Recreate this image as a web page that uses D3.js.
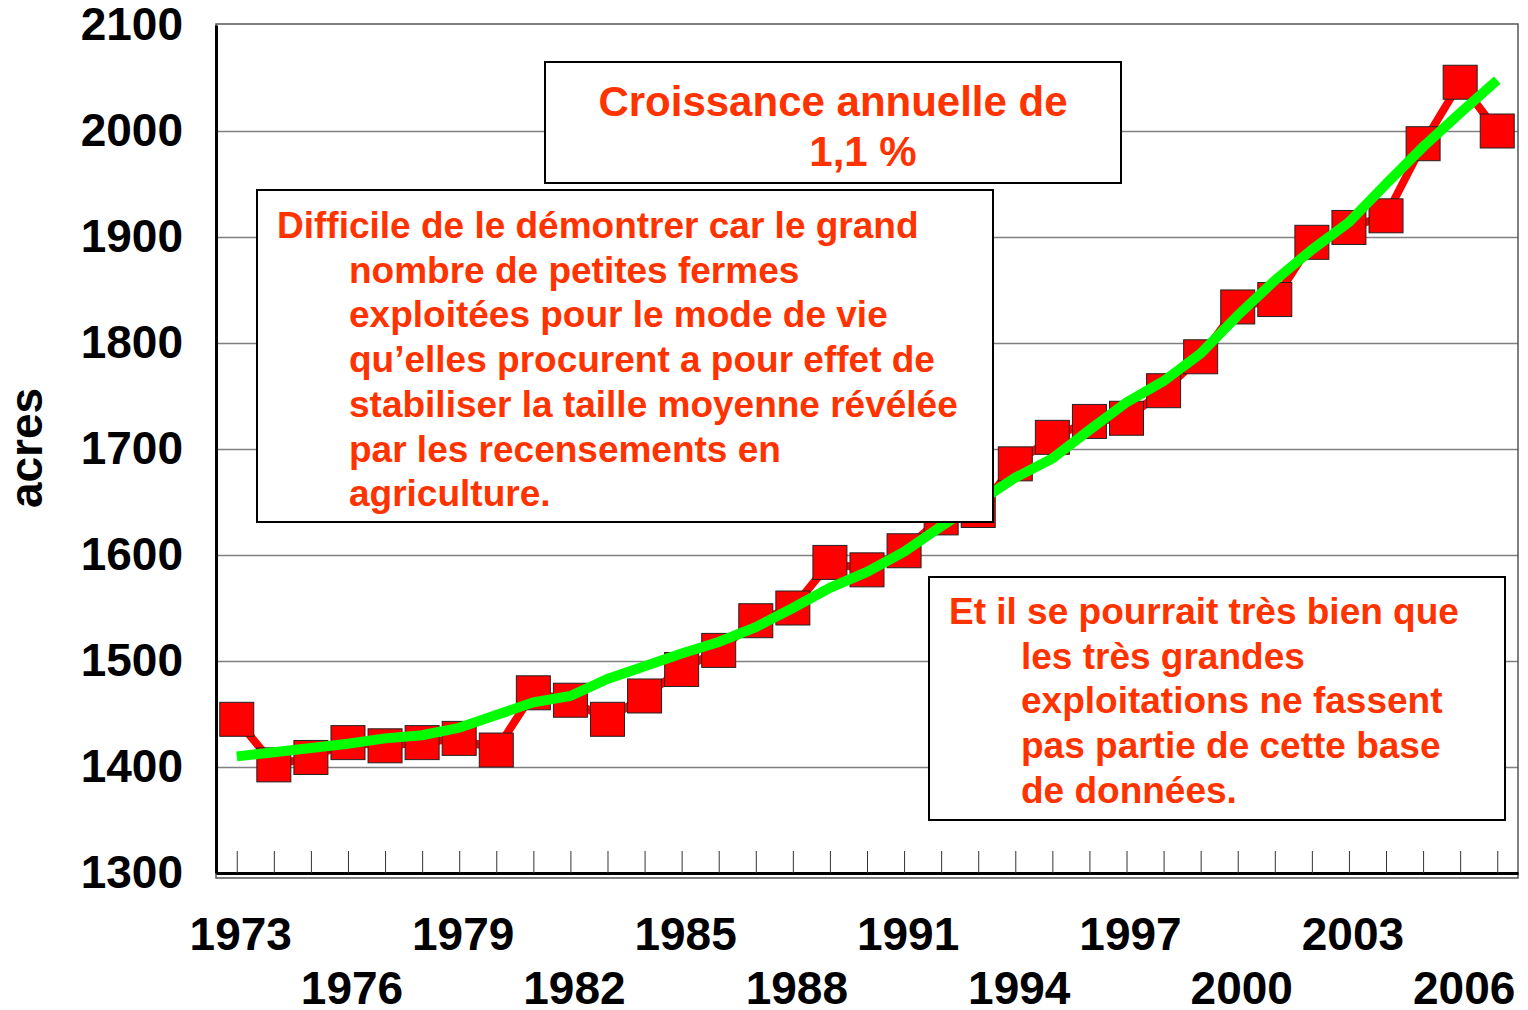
<!DOCTYPE html>
<html>
<head>
<meta charset="utf-8">
<script src="https://cdn.jsdelivr.net/npm/d3@7"></script>
<style>
  body { margin: 0; background: #fff; }
  svg { display: block; }
  text { font-family: "Liberation Sans", Arial, sans-serif; font-weight: bold; }
</style>
</head>
<body>
<div id="chart"></div>
<script>
// years on the category axis
var years = [1973, 1974, 1975, 1976, 1977, 1978, 1979, 1980, 1981, 1982,
             1983, 1984, 1985, 1986, 1987, 1988, 1989, 1990, 1991, 1992,
             1993, 1994, 1995, 1996, 1997, 1998, 1999, 2000, 2001, 2002,
             2003, 2004, 2005, 2006, 2007];

// average farm size (acres), red series
var acres = [1445, 1402, 1409, 1423, 1420, 1423, 1427, 1416, 1470, 1463,
             1445, 1467, 1492, 1510, 1538, 1550, 1593, 1586, 1604, 1635,
             1642, 1686, 1711, 1726, 1729, 1755, 1787, 1834, 1841, 1895,
             1909, 1920, 1988, 2046, 2000];

// smoothed trend, green series
var trend = [1410, 1414, 1418, 1422, 1427, 1430, 1437, 1449, 1461, 1467,
             1483, 1495, 1507, 1518, 1532, 1550, 1569, 1584, 1603, 1627,
             1650, 1673, 1691, 1718, 1744, 1764, 1790, 1826, 1859, 1888,
             1914, 1950, 1985, 2017, 2048];

var yTicks = [1300, 1400, 1500, 1600, 1700, 1800, 1900, 2000, 2100];
var xLabelsTop = [1973, 1979, 1985, 1991, 1997, 2003];
var xLabelsBottom = [1976, 1982, 1988, 1994, 2000, 2006];

var width = 1528, height = 1010;
var plotL = 216, plotR = 1518, plotT = 25, plotB = 873;
var orange = "#ff3300";

var svg = d3.select("#chart").append("svg")
    .attr("width", width)
    .attr("height", height);

var x = d3.scalePoint().domain(years).range([plotL, plotR]).padding(0.56);
var y = d3.scaleLinear().domain([1300, 2100]).range([plotB, plotT]);

// gridlines
svg.append("g")
   .attr("transform", "translate(" + plotL + ",0)")
   .call(d3.axisLeft(y).tickValues(yTicks.slice(1, -1)).tickSize(-(plotR - plotL)).tickFormat(""))
   .call(function(g) { g.select(".domain").remove(); })
   .selectAll("line")
   .attr("stroke", "#808080")
   .attr("stroke-width", 1.5);

// plot area border
svg.append("rect")
   .attr("x", plotL).attr("y", plotT - 1)
   .attr("width", plotR - plotL).attr("height", plotB - plotT + 6)
   .attr("fill", "none")
   .attr("stroke", "#555")
   .attr("stroke-width", 1.5);

// red data line and markers
svg.append("path")
   .datum(years)
   .attr("fill", "none")
   .attr("stroke", "#ff0000")
   .attr("stroke-width", 8)
   .attr("d", d3.line().x(function(d) { return x(d); }).y(function(d, i) { return y(acres[i]); }));

svg.selectAll("rect.mk")
   .data(years)
   .enter()
   .append("rect")
   .attr("class", "mk")
   .attr("x", function(d) { return x(d) - 17; })
   .attr("y", function(d, i) { return y(acres[i]) - 17; })
   .attr("width", 34)
   .attr("height", 34)
   .attr("fill", "#ff0000")
   .attr("stroke", "#222")
   .attr("stroke-width", 1);

// green trend line
svg.append("path")
   .datum(years)
   .attr("fill", "none")
   .attr("stroke", "#00ff00")
   .attr("stroke-width", 10)
   .attr("d", d3.line().x(function(d) { return x(d); }).y(function(d, i) { return y(trend[i]); }));

// y axis
var yAxis = svg.append("g")
   .attr("transform", "translate(" + plotL + ",0)")
   .call(d3.axisLeft(y).tickValues(yTicks).tickSize(0).tickPadding(33).tickFormat(d3.format("d")));
yAxis.select(".domain").attr("stroke", "#000").attr("stroke-width", 3);
yAxis.selectAll("text")
   .attr("font-size", 46)
   .attr("font-family", "Liberation Sans, Arial, sans-serif")
   .attr("font-weight", "bold")
   .attr("fill", "#000");

// x axis (ticks inside, labels drawn below)
var xAxis = svg.append("g")
   .attr("transform", "translate(0," + plotB + ")")
   .call(d3.axisBottom(x).tickSize(-22).tickSizeOuter(0).tickFormat(""));
xAxis.select(".domain").attr("stroke", "#000").attr("stroke-width", 3);
xAxis.selectAll(".tick line").attr("stroke", "#333").attr("stroke-width", 1);

svg.selectAll("text.xl1")
   .data(xLabelsTop)
   .enter()
   .append("text")
   .attr("class", "xl1")
   .attr("x", function(d) { return x(d) + 4; })
   .attr("y", 950)
   .attr("text-anchor", "middle")
   .attr("font-size", 46)
   .text(function(d) { return d; });

svg.selectAll("text.xl2")
   .data(xLabelsBottom)
   .enter()
   .append("text")
   .attr("class", "xl2")
   .attr("x", function(d) { return x(d) + 4; })
   .attr("y", 1004)
   .attr("text-anchor", "middle")
   .attr("font-size", 46)
   .text(function(d) { return d; });

// y axis title
svg.append("text")
   .attr("transform", "translate(42,448) rotate(-90)")
   .attr("text-anchor", "middle")
   .attr("font-size", 46)
   .text("acres");

// annotation boxes
function box(bx, by, bw, bh) {
    svg.append("rect")
       .attr("x", bx).attr("y", by)
       .attr("width", bw).attr("height", bh)
       .attr("fill", "#fff")
       .attr("stroke", "#000")
       .attr("stroke-width", 2);
}

box(545, 62, 576, 121);
svg.append("text").attr("x", 833).attr("y", 116).attr("text-anchor", "middle")
   .attr("font-size", 42).attr("fill", orange).text("Croissance annuelle de");
svg.append("text").attr("x", 863).attr("y", 166).attr("text-anchor", "middle")
   .attr("font-size", 42).attr("fill", orange).text("1,1 %");

var note1 = ["Difficile de le démontrer car le grand",
             "nombre de petites fermes",
             "exploitées pour le mode de vie",
             "qu’elles procurent a pour effet de",
             "stabiliser la taille moyenne révélée",
             "par les recensements en",
             "agriculture."];
box(257, 190, 736, 332);
svg.selectAll("text.n1")
   .data(note1)
   .enter()
   .append("text")
   .attr("class", "n1")
   .attr("x", function(d, i) { return i === 0 ? 277 : 349; })
   .attr("y", function(d, i) { return 238 + i * 44.7; })
   .attr("font-size", 37)
   .attr("fill", orange)
   .text(function(d) { return d; });

var note2 = ["Et il se pourrait très bien que",
             "les très grandes",
             "exploitations ne fassent",
             "pas partie de cette base",
             "de données."];
box(929, 577, 576, 243);
svg.selectAll("text.n2")
   .data(note2)
   .enter()
   .append("text")
   .attr("class", "n2")
   .attr("x", function(d, i) { return i === 0 ? 949 : 1021; })
   .attr("y", function(d, i) { return 624 + i * 44.7; })
   .attr("font-size", 37)
   .attr("fill", orange)
   .text(function(d) { return d; });
</script>
</body>
</html>
